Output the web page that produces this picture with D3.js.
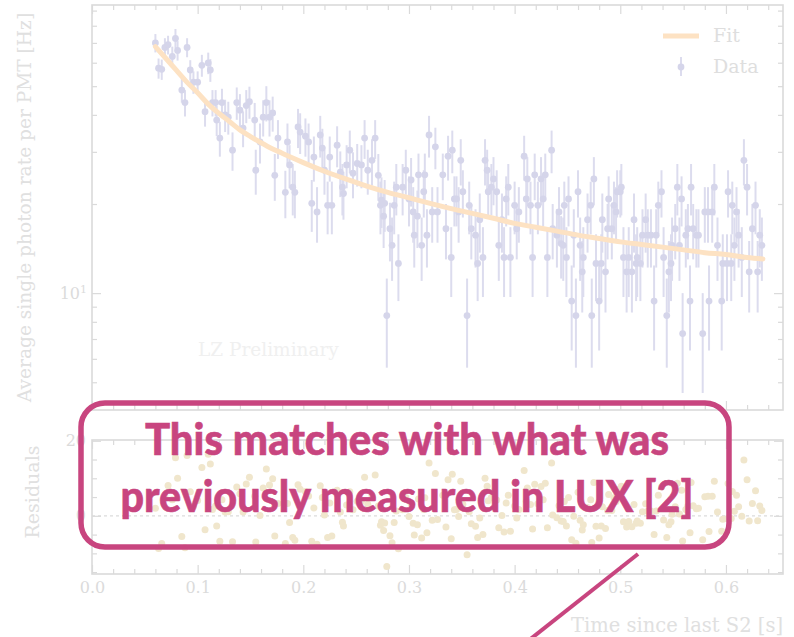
<!DOCTYPE html>
<html>
<head>
<meta charset="utf-8">
<script src="https://cdn.jsdelivr.net/npm/d3@7"></script>
<style>
  body { margin: 0; background: #fff; }
  svg { display: block; }
</style>
</head>
<body>
<script>
// measured single photon rate per bin (time since last S2, rate, error, residual = data - fit)
const times = [
  0.060,0.063,0.066,0.069,0.072,0.076,0.079,0.081,0.085,0.088,
  0.090,0.093,0.096,0.100,0.104,0.107,0.110,0.112,0.114,0.117,
  0.118,0.121,0.123,0.126,0.129,0.133,0.137,0.140,0.143,0.146,
  0.149,0.154,0.155,0.159,0.162,0.165,0.168,0.171,0.173,0.176,
  0.183,0.185,0.187,0.190,0.192,0.195,0.197,0.202,0.205,0.208,
  0.210,0.213,0.216,0.218,0.220,0.223,0.225,0.227,0.232,0.235,
  0.237,0.238,0.241,0.244,0.247,0.251,0.255,0.258,0.261,0.265,
  0.268,0.271,0.273,0.274,0.276,0.277,0.279,0.282,0.284,0.286,
  0.288,0.290,0.294,0.297,0.300,0.302,0.304,0.305,0.308,0.309,
  0.312,0.314,0.315,0.317,0.319,0.322,0.325,0.327,0.332,0.335,
  0.337,0.340,0.341,0.343,0.345,0.347,0.349,0.351,0.355,0.357,
  0.359,0.363,0.365,0.367,0.370,0.372,0.374,0.375,0.378,0.380,
  0.383,0.385,0.388,0.390,0.392,0.394,0.396,0.400,0.402,0.404,
  0.409,0.411,0.412,0.415,0.417,0.419,0.422,0.425,0.427,0.429,
  0.431,0.435,0.436,0.440,0.442,0.444,0.446,0.447,0.449,0.451,
  0.454,0.456,0.458,0.460,0.462,0.464,0.465,0.469,0.472,0.473,
  0.475,0.477,0.480,0.482,0.483,0.486,0.488,0.489,0.492,0.494,
  0.496,0.497,0.500,0.501,0.503,0.506,0.508,0.511,0.513,0.515,
  0.516,0.519,0.521,0.524,0.526,0.529,0.532,0.534,0.536,0.539,
  0.541,0.544,0.546,0.548,0.549,0.552,0.554,0.556,0.558,0.559,
  0.562,0.564,0.566,0.567,0.569,0.572,0.574,0.578,0.580,0.583,
  0.584,0.587,0.589,0.592,0.596,0.597,0.601,0.602,0.605,0.606,
  0.608,0.610,0.612,0.615,0.617,0.620,0.622,0.625,0.628,0.630,
  0.632,0.634
]
const rates = [
  70,57.5,57,67.6,69,63,72.5,66,48.5,44,
  67.6,56.7,51.6,51.6,58.8,41,59.9,56.7,44,44,
  38.4,33.4,44,40,39.3,30.4,44,41.5,36.1,43,
  44.3,38.4,26,32.4,39.3,44,39.3,40.6,25,33.4,
  21.9,32.4,27.1,22.8,21.9,36.4,35,33.9,32.4,20.1,
  28.8,18.8,34.2,30.9,26,19.8,28.8,19.8,31.6,25.6,
  22.8,21.7,27.1,30.4,25.4,27.4,27.1,33.4,26,28.1,
  33.4,25,19.8,20.6,18.2,20.1,8.4,16.5,14.5,19.8,
  22.8,12.6,22.8,26,20.8,24.1,18.8,15.7,18.2,25.1,
  14.5,22,25.1,15.7,34.2,18.8,31.2,18.8,25.1,16.5,
  29,13.2,30.4,20.8,20.8,18.8,28.1,22,8.4,19.8,
  16.5,15.7,12.6,17.7,13.2,28.1,26,22,22.8,24.3,
  22,14.5,17.7,13.2,20.8,22.8,13.2,19.8,16.5,18.8,
  29,20.8,24.3,19.8,13.2,25.1,19.8,24.3,20.8,25.1,
  13.2,30.4,16.5,15.7,18.8,14.7,14.5,19.8,13.2,20.8,
  9.4,15.7,8.4,22,14.5,11.8,13.2,17.7,19.8,8.4,
  24.3,12.6,9.4,12.6,17.7,11.8,16.5,20.8,16.5,19.8,
  18.8,22,22,22.8,13.2,11.8,13.2,11.8,17.7,12.6,
  13.2,12.6,15.7,17.7,15.7,15.7,9.4,15.7,19.8,22,
  13.2,8.4,11.8,12.6,14.5,16.5,22.8,14.5,20.8,7.3,
  15.7,16.5,9.4,22.8,16.5,15.7,15.7,7.3,18.8,18.8,
  9.4,18.8,22.8,14.5,9.4,12.6,12.6,22,12.6,19.8,
  14.5,18.8,15.7,13.2,28.1,22.8,11.8,16.5,19.8,11.8,
  15.7,14.5
]
const rateErrors = [
  5,4.5,4.5,5,5,5,5.5,5,4.5,4.5,
  5,4.5,4.5,4.5,5,4.5,5,5,4.5,4.5,
  4.5,4.5,5,5,5,4.5,5.5,5.5,5,5.5,
  5.5,5.5,4.5,5,5.5,6,5.5,5.5,4.5,5,
  4,5,4.5,4.5,4,5.5,5.5,5,5,4,
  5,4,5.5,5,4.5,4,5,4,5,4.5,
  4.5,4,4.5,5,4.5,4.5,4.5,5,4.5,5,
  5,4.5,4,4,4,4,2.8,3.7,3.5,4,
  4.5,3.2,4.5,4.5,4,4.5,4,3.5,4,4.5,
  3.5,4,4.5,3.5,5.5,4,5,4,4.5,3.5,
  5,3.5,5,4,4,4,5,4,2.8,4,
  3.5,3.5,3.2,4,3.5,5,4.5,4,4.5,4.5,
  4,3.5,4,3.5,4,4.5,3.5,4,3.5,4,
  5,4,4.5,4,3.5,4.5,4,4.5,4,4.5,
  3.5,5,3.5,3.5,4,3.5,3.5,4,3.5,4,
  3,3.5,2.8,4,3.5,3.2,3.5,4,4,2.8,
  4.5,3.2,3,3.2,4,3.2,3.5,4,3.5,4,
  4,4,4,4.5,3.5,3.2,3.5,3.2,4,3.2,
  3.5,3.2,3.5,4,3.5,3.5,3,3.5,4,4,
  3.5,2.8,3.2,3.2,3.5,3.5,4.5,3.5,4,2.7,
  3.5,3.5,3,4.5,3.5,3.5,3.5,2.7,4,4,
  3,4,4.5,3.5,3,3.2,3.2,4,3.2,4,
  3.5,4,3.5,3.5,5,4.5,3.2,3.5,4,3.2,
  3.5,3.5
]
const residuals = [
  2.0,-8.7,-7.4,5.0,8.1,4.3,15.5,10.0,-5.5,-8.5,
  16.1,6.4,2.5,4.1,12.9,-3.7,16.4,13.8,1.7,2.6,
  -2.7,-6.8,4.3,1.0,1.1,-6.9,7.7,5.9,1.0,8.5,
  10.3,5.2,-7.0,0.1,7.4,12.5,8.2,9.9,-5.4,3.3,
  -7.4,3.3,-1.8,-5.8,-6.5,8.3,7.1,6.5,5.3,-6.8,
  2.1,-7.6,8.0,4.9,0.2,-5.8,3.4,-5.4,6.8,1.0,
  -1.7,-2.7,2.9,6.4,1.6,3.9,3.8,10.3,3.1,5.4,
  10.9,2.6,-2.5,-1.6,-3.9,-1.9,-13.5,-5.3,-7.2,-1.8,
  1.3,-8.8,1.6,4.9,-0.2,3.2,-2.0,-5.1,-2.4,4.5,
  -5.9,1.7,4.8,-4.5,14.1,-1.2,11.3,-1.0,5.5,-3.0,
  9.6,-6.1,11.1,1.6,1.7,-0.2,9.2,3.1,-10.4,1.1,
  -2.1,-2.8,-5.8,-0.6,-5.0,10.0,7.9,4.0,4.9,6.4,
  4.2,-3.2,0.1,-4.3,3.4,5.5,-4.1,2.6,-0.6,1.7,
  12.1,3.9,7.4,3.0,-3.5,8.4,3.2,7.8,4.3,8.7,
  -3.2,14.1,0.2,-0.5,2.7,-1.4,-1.5,3.8,-2.7,4.9,
  -6.4,-0.1,-7.3,6.3,-1.2,-3.8,-2.4,2.2,4.3,-7.1,
  8.9,-2.8,-5.9,-2.7,2.4,-3.4,1.4,5.7,1.4,4.8,
  3.8,7.0,7.1,7.9,-1.6,-3.0,-1.5,-2.9,3.0,-2.0,
  -1.4,-2.0,1.1,3.2,1.2,1.3,-5.0,1.3,5.5,7.7,
  -1.1,-5.8,-2.4,-1.6,0.4,2.4,8.7,0.5,6.8,-6.7,
  1.7,2.6,-4.5,8.9,2.7,1.9,2.0,-6.4,5.1,5.2,
  -4.2,5.2,9.2,1.0,-4.1,-0.9,-0.8,8.6,-0.7,6.5,
  1.2,5.5,2.4,-0.1,14.9,9.6,-1.4,3.3,6.7,-1.3,
  2.6,1.4
]

// fit curve sampled at a few times
const fitTimes = [0.06,0.07,0.08,0.09,0.10,0.11,0.12,0.13,0.14,0.15,0.16,0.17,0.18,0.19,0.20,0.22,0.24,0.26,0.28,0.30,0.32,0.34,0.36,0.38,0.40,0.42,0.44,0.46,0.48,0.50,0.52,0.54,0.56,0.58,0.60,0.62,0.635]
const fitRates = [68,62,56.5,51.5,47.5,43.5,40.5,38,35.6,33.8,32.2,30.8,29.7,28.6,27.6,25.8,24.3,23,21.9,21,20.1,19.3,18.6,17.9,17.2,16.7,16.2,15.7,15.3,14.9,14.6,14.3,14.0,13.7,13.5,13.2,13.05]

const xTicks = [0, 0.1, 0.2, 0.3, 0.4, 0.5, 0.6]
const xMinorTicks = [0.02,0.04,0.06,0.08,0.12,0.14,0.16,0.18,0.22,0.24,0.26,0.28,0.32,0.34,0.36,0.38,0.42,0.44,0.46,0.48,0.52,0.54,0.56,0.58,0.62,0.64]
const yTicks = [10]
const yMinorTicks = [5,6,7,8,9,20,30,40,50,60,70,80,90]
const resTicks = [0, 20]
const resMinorTicks = [-15,-10,-5,5,10,15]
const legendLabels = ['Fit', 'Data']
const callout = ['This matches with what was', 'previously measured in LUX [2]']

const width = 794
const height = 637
const left = 92, right = 783
const mainTop = 5, mainBottom = 410
const resTop = 440, resBottom = 574

const frameColor = '#dadada'
const textColor = '#dbdbdb'
const dataColor = '#d5d5ea'
const barColor = '#dcdcee'
const fitColor = '#fde2c3'
const resColor = '#f0e6cc'
const pink = '#c8457f'
const serif = 'DejaVu Serif'

const svg = d3.select('body').append('svg').attr('width', width).attr('height', height)

const x = d3.scaleLinear().domain([0, 0.654]).range([left, right])
const y = d3.scaleLog().domain([4.03, 94]).range([mainBottom, mainTop])
const yRes = d3.scaleLinear().domain([-15.5, 20.2]).range([resBottom, resTop])

const points = times.map((t, i) => ({t: t, v: rates[i], e: rateErrors[i], r: residuals[i]}))

svg.append('clipPath').attr('id', 'clipMain').append('rect')
  .attr('x', left).attr('y', mainTop).attr('width', right - left).attr('height', mainBottom - mainTop)
svg.append('clipPath').attr('id', 'clipRes').append('rect')
  .attr('x', left).attr('y', resTop).attr('width', right - left).attr('height', resBottom - resTop)

// inward ticks, no labels
const drawTicks = (scale, orient, pos, values, size) => {
  const axisFn = {bottom: d3.axisBottom, top: d3.axisTop, left: d3.axisLeft, right: d3.axisRight}[orient]
  const g = svg.append('g')
    .attr('transform', (orient == 'bottom' || orient == 'top') ? `translate(0,${pos})` : `translate(${pos},0)`)
    .call(axisFn(scale).tickValues(values).tickSize(-size).tickFormat(''))
  g.select('.domain').remove()
  g.selectAll('line').attr('stroke', frameColor).attr('stroke-width', 1.2)
}

const majorLen = 9, minorLen = 5
;[[mainTop, 'top'], [mainBottom, 'bottom'], [resTop, 'top'], [resBottom, 'bottom']].forEach(([pos, o]) => {
  drawTicks(x, o, pos, xTicks, majorLen)
  drawTicks(x, o, pos, xMinorTicks, minorLen)
})
;[[left, 'left'], [right, 'right']].forEach(([pos, o]) => {
  drawTicks(y, o, pos, yTicks, majorLen)
  drawTicks(y, o, pos, yMinorTicks, minorLen)
  drawTicks(yRes, o, pos, resTicks, majorLen)
  drawTicks(yRes, o, pos, resMinorTicks, minorLen)
})

// frames
svg.append('rect').attr('x', left).attr('y', mainTop).attr('width', right - left).attr('height', mainBottom - mainTop)
  .attr('fill', 'none').attr('stroke', frameColor).attr('stroke-width', 1.6)
svg.append('rect').attr('x', left).attr('y', resTop).attr('width', right - left).attr('height', resBottom - resTop)
  .attr('fill', 'none').attr('stroke', frameColor).attr('stroke-width', 1.6)

// tick labels
const xLab = svg.append('g').attr('transform', `translate(0,${resBottom})`)
  .call(d3.axisBottom(x).tickValues(xTicks).tickSize(0).tickPadding(8).tickFormat(d3.format('.1f')))
xLab.select('.domain').remove()

const yLab = svg.append('g').attr('transform', `translate(${left},0)`)
  .call(d3.axisLeft(y).tickValues(yTicks).tickSize(0).tickPadding(5).tickFormat(() => ''))
yLab.select('.domain').remove()
yLab.selectAll('.tick text').each(function () {
  const t = d3.select(this)
  t.append('tspan').text('10')
  t.append('tspan').attr('dy', '-0.5em').attr('font-size', 11).text('1')
})

const rLab = svg.append('g').attr('transform', `translate(${left},0)`)
  .call(d3.axisLeft(yRes).tickValues(resTicks).tickSize(0).tickPadding(6))
rLab.select('.domain').remove()

svg.selectAll('.tick text').attr('font-family', serif).attr('font-size', 16).attr('fill', textColor)

// axis titles
svg.append('text').attr('transform', `translate(31,${(mainTop + mainBottom) / 2}) rotate(-90)`)
  .attr('text-anchor', 'middle').attr('font-family', serif).attr('font-size', 18.6).attr('fill', '#e0e0e0')
  .text('Average single photon rate per PMT [Hz]')
svg.append('text').attr('transform', `translate(39,492) rotate(-90)`)
  .attr('text-anchor', 'middle').attr('font-family', serif).attr('font-size', 19).attr('fill', '#e0e0e0')
  .text('Residuals')
svg.append('text').attr('x', right).attr('y', 632).attr('text-anchor', 'end')
  .attr('font-family', serif).attr('font-size', 19.5).attr('fill', '#e0e0e0')
  .text('Time since last S2 [s]')

svg.append('text').attr('x', 198).attr('y', 356).attr('font-family', serif).attr('font-size', 18.5)
  .attr('fill', '#f0f0f0').text('LZ Preliminary')

// data with error bars
const mainG = svg.append('g').attr('clip-path', 'url(#clipMain)')
mainG.selectAll('line.err').data(points).enter().append('line').attr('class', 'err')
  .attr('x1', (d) => x(d.t)).attr('x2', (d) => x(d.t))
  .attr('y1', (d) => y(Math.max(d.v - d.e, 4))).attr('y2', (d) => y(d.v + d.e))
  .attr('stroke', barColor).attr('stroke-width', 2)
mainG.selectAll('circle').data(points).enter().append('circle')
  .attr('cx', (d) => x(d.t)).attr('cy', (d) => y(d.v)).attr('r', 3.4)
  .attr('fill', dataColor)

const fitLine = d3.line().x((d, i) => x(fitTimes[i])).y((d) => y(d)).curve(d3.curveMonotoneX)
mainG.append('path').attr('d', fitLine(fitRates)).attr('fill', 'none')
  .attr('stroke', fitColor).attr('stroke-width', 5).attr('stroke-linecap', 'round')

// residuals
const resG = svg.append('g').attr('clip-path', 'url(#clipRes)')
resG.append('line').attr('x1', left).attr('x2', right).attr('y1', yRes(0)).attr('y2', yRes(0))
  .attr('stroke', '#dcdcdc').attr('stroke-width', 1.2).attr('stroke-dasharray', '3,3')
resG.selectAll('circle').data(points).enter().append('circle')
  .attr('cx', (d) => x(d.t)).attr('cy', (d) => yRes(d.r)).attr('r', 3.5)
  .attr('fill', resColor)

// legend
const leg = svg.append('g')
leg.append('line').attr('x1', 663).attr('x2', 699).attr('y1', 36).attr('y2', 36)
  .attr('stroke', fitColor).attr('stroke-width', 5)
leg.append('line').attr('x1', 681).attr('x2', 681).attr('y1', 57).attr('y2', 76)
  .attr('stroke', barColor).attr('stroke-width', 2)
leg.append('circle').attr('cx', 681).attr('cy', 67).attr('r', 3.4).attr('fill', dataColor)
leg.selectAll('text').data(legendLabels).enter().append('text')
  .attr('x', 713).attr('y', (d, i) => 42 + i * 31)
  .attr('font-family', serif).attr('font-size', 19).attr('fill', '#dedede')
  .text((d) => d)

// callout box
svg.append('rect').attr('x', 81).attr('y', 403).attr('width', 648).attr('height', 144).attr('rx', 24)
  .attr('fill', 'none').attr('stroke', pink).attr('stroke-width', 5.5)
svg.append('line').attr('x1', 638).attr('y1', 554).attr('x2', 528).attr('y2', 641)
  .attr('stroke', pink).attr('stroke-width', 4)

// condensed heavy lettering: squeeze a larger Lato to the measured line widths
const lineWidths = [524, 573]
svg.selectAll('text.callout').data(callout).enter().append('text').attr('class', 'callout')
  .attr('x', 407).attr('y', (d, i) => 455 + i * 57).attr('text-anchor', 'middle')
  .attr('font-family', 'Lato').attr('font-weight', 900).attr('font-size', 44)
  .attr('textLength', (d, i) => lineWidths[i]).attr('lengthAdjust', 'spacingAndGlyphs')
  .attr('fill', pink).attr('stroke', pink).attr('stroke-width', 0.6)
  .text((d) => d)
</script>
</body>
</html>
